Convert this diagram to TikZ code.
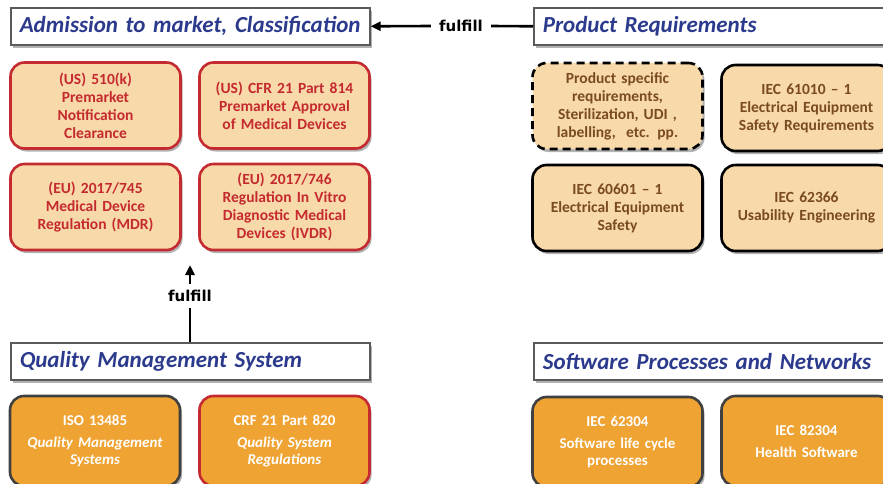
\documentclass[tikz,border=0pt]{standalone}
\usepackage{fontspec}
\setmainfont{Carlito}
\newfontfamily\linkfont{DejaVu Sans}
\usetikzlibrary{shadows,arrows.meta}
\definecolor{titleblue}{HTML}{2B3A8C}
\definecolor{regred}{HTML}{C42A2F}
\definecolor{peach}{HTML}{F8D9A9}
\definecolor{brownish}{HTML}{7A4A20}
\definecolor{orangefill}{HTML}{EFA332}
\definecolor{darkline}{HTML}{404040}
\definecolor{titleline}{HTML}{5A5A5A}
\begin{document}
\begin{tikzpicture}[x=1pt,y=-1pt,
  softshadow/.style={drop shadow={shadow xshift=2pt,shadow yshift=-3pt,opacity=0.3,fill=black}},
  titlebox/.style={draw=titleline,line width=1.6pt,fill=white,anchor=north west,
    minimum height=37pt,inner xsep=9pt,inner ysep=0pt,align=left,text=titleblue,
    font=\fontsize{23}{26}\selectfont\bfseries\itshape,softshadow},
  cardbase/.style={rounded corners=14pt,line width=2.6pt,align=center,inner sep=2pt,softshadow},
  regcard/.style={cardbase,draw=regred,fill=peach,text=regred,
    minimum width=170pt,minimum height=86pt,text width=166pt,
    font=\fontsize{15.5}{18}\selectfont\bfseries},
  reqcard/.style={cardbase,draw=black,fill=peach,text=brownish,
    minimum width=169pt,minimum height=86pt,text width=166pt,
    font=\fontsize{15.5}{18}\selectfont\bfseries},
  stdcard/.style={cardbase,draw=darkline,fill=orangefill,text=white,
    minimum width=170pt,minimum height=90pt,text width=166pt,
    font=\fontsize{15}{17}\selectfont\bfseries},
  linklabel/.style={font=\linkfont\fontsize{15}{17}\selectfont\bfseries,text=black},
  link/.style={line width=2.6pt,black},
  linkarrow/.style={link,-{Triangle[length=10pt,width=9pt]}}
]
\useasboundingbox (0,0) rectangle (883,484);
\clip (0,0) rectangle (883,484);

% section headers
\node[titlebox,text width=341pt] (admission) at (10,7) {Admission to market, Classification};
\node[titlebox,text width=400pt] (product) at (533,7) {Product Requirements};
\node[titlebox,text width=341pt] (qms) at (10,342) {Quality Management System};
\node[titlebox,text width=400pt] (software) at (533,342) {Software Processes and Networks};

% regulations
\node[regcard] (k510) at (95.5,105.5) {(US) 510(k)\\Premarket\\Notification\\Clearance};
\node[regcard] (cfr814) at (284.5,105.5) {(US) CFR 21 Part 814\\Premarket Approval\\of Medical Devices\\[18pt]};
\node[regcard] (mdr) at (95.5,207) {(EU) 2017/745\\Medical Device\\Regulation (MDR)};
\node[regcard] (ivdr) at (284.5,207) {(EU) 2017/746\\Regulation In Vitro\\Diagnostic Medical\\Devices (IVDR)};

% product requirements
\node[reqcard,dash pattern=on 8pt off 5pt] (specific) at (617.5,106)
  {Product specific\\requirements,\\Sterilization, UDI ,\\labelling,\ \ etc. pp.};
\node[reqcard] (iec61010) at (806.5,108) {IEC 61010 -- 1\\Electrical Equipment\\Safety Requirements};
\node[reqcard] (iec60601) at (617.5,208) {IEC 60601 -- 1\\Electrical Equipment\\Safety};
\node[reqcard] (iec62366) at (806.5,208) {IEC 62366\\Usability Engineering};

% quality management standards
\node[stdcard] (iso13485) at (95,441)
  {ISO 13485\\[5pt]\itshape Quality Management\\\itshape Systems};
\node[stdcard,draw=regred] (cfr820) at (284.5,441)
  {CRF 21 Part 820\\[5pt]\itshape Quality System\\\itshape Regulations};

% software standards
\node[stdcard] (iec62304) at (617.5,442)
  {IEC 62304\\[5pt]Software life cycle\\processes};
\node[stdcard] (iec82304) at (806.5,441)
  {IEC 82304\\[5pt]Health Software};

% fulfill relations
\node[linklabel,inner xsep=8pt,inner ysep=2pt] (fulfilltop) at (461,26) {fulfill};
\draw[link] (product.west) -- (fulfilltop.east);
\draw[linkarrow] (fulfilltop.west) -- (admission.east);

\node[linklabel,inner xsep=2pt,inner ysep=6pt] (fulfillmid) at (190,296) {fulfill};
\coordinate (regbelow) at (190,265);
\draw[link] (qms.north -| fulfillmid) -- (fulfillmid.south);
\draw[linkarrow] (fulfillmid.north) -- (regbelow);
\end{tikzpicture}
\end{document}
